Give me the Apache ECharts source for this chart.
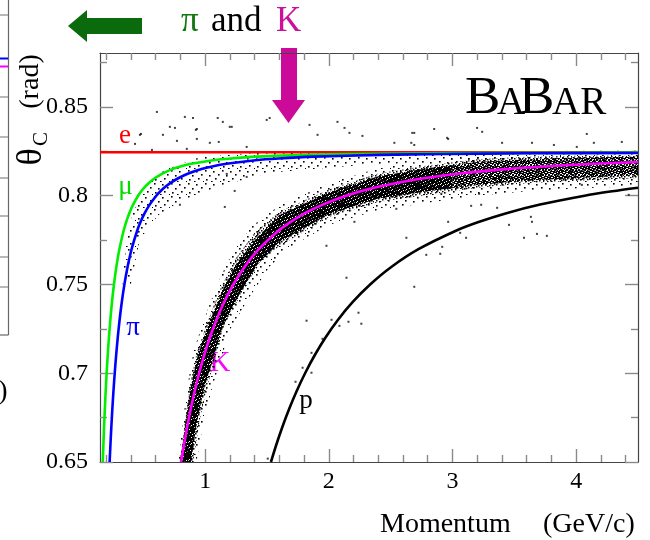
<!DOCTYPE html>
<html>
<head>
<meta charset="utf-8">
<script src="https://cdn.jsdelivr.net/npm/echarts@6/dist/echarts.min.js"></script>
<style>
  html, body { margin: 0; padding: 0; background: #fff; }
  #chart { width: 650px; height: 540px; }
</style>
</head>
<body>
<div id="chart"></div>
<script>
// Axis ticks (momentum in GeV/c, Cherenkov angle in rad)
const momentumTicks = [1, 2, 3, 4];
const momentumMinorTicks = [0.2, 0.4, 0.6, 0.8, 1.2, 1.4, 1.6, 1.8, 2.2, 2.4, 2.6, 2.8, 3.2, 3.4, 3.6, 3.8, 4.2, 4.4];
const angleTicks = [0.65, 0.7, 0.75, 0.8, 0.85];
const angleMinorTicks = [0.675, 0.725, 0.775, 0.825, 0.875];

// Expected Cherenkov angle for each particle hypothesis: [momentum, theta_C]
const electronCurve = [[0.15, 0.8245], [4.5, 0.8245]];
const muonCurve = [[0.1725, 0.65], [0.1776, 0.66], [0.1831, 0.67], [0.1892, 0.68], [0.1960, 0.69], [0.2036, 0.70],
  [0.2122, 0.71], [0.2221, 0.72], [0.2335, 0.73], [0.2468, 0.74], [0.2628, 0.75], [0.2824, 0.76], [0.3072, 0.77],
  [0.3400, 0.78], [0.3609, 0.785], [0.3861, 0.79], [0.4176, 0.795], [0.4581, 0.80], [0.4834, 0.8025], [0.5135, 0.805],
  [0.5499, 0.8075], [0.5953, 0.81], [0.6542, 0.8125], [0.7349, 0.815], [0.8005, 0.8165], [0.8874, 0.818],
  [1.0648, 0.82], [1.2057, 0.821], [1.4225, 0.822], [1.8244, 0.823], [2.2172, 0.8235], [3.0, 0.8240], [4.5, 0.8243]];
const pionCurve = [[0.2279, 0.65], [0.2345, 0.66], [0.2419, 0.67], [0.2499, 0.68], [0.2589, 0.69], [0.2690, 0.70],
  [0.2804, 0.71], [0.2934, 0.72], [0.3084, 0.73], [0.3261, 0.74], [0.3472, 0.75], [0.3731, 0.76], [0.4058, 0.77],
  [0.4491, 0.78], [0.4767, 0.785], [0.5101, 0.79], [0.5516, 0.795], [0.6052, 0.80], [0.6386, 0.8025], [0.6783, 0.805],
  [0.7263, 0.8075], [0.7863, 0.81], [0.8641, 0.8125], [0.9707, 0.815], [1.0574, 0.8165], [1.1722, 0.818],
  [1.4066, 0.82], [1.5927, 0.821], [1.8790, 0.822], [2.4100, 0.823], [2.9288, 0.8235], [3.6, 0.8239], [4.5, 0.8241]];
const kaonCurve = [[0.8061, 0.65], [0.8296, 0.66], [0.8555, 0.67], [0.8840, 0.68], [0.9158, 0.69], [0.9514, 0.70],
  [0.9917, 0.71], [1.0376, 0.72], [1.0908, 0.73], [1.1533, 0.74], [1.2280, 0.75], [1.3197, 0.76], [1.4355, 0.77],
  [1.5886, 0.78], [1.6861, 0.785], [1.8041, 0.79], [1.9509, 0.795], [2.1406, 0.80], [2.2588, 0.8025], [2.3991, 0.805],
  [2.5691, 0.8075], [2.7814, 0.81], [3.0565, 0.8125], [3.4335, 0.815], [3.7401, 0.8165], [4.1462, 0.818], [4.5, 0.819]];
const protonCurve = [[1.5321, 0.65], [1.5768, 0.66], [1.6259, 0.67], [1.6801, 0.68], [1.7405, 0.69], [1.8082, 0.70],
  [1.8847, 0.71], [1.9721, 0.72], [2.0732, 0.73], [2.1919, 0.74], [2.3340, 0.75], [2.5081, 0.76], [2.7283, 0.77],
  [3.0192, 0.78], [3.2045, 0.785], [3.4288, 0.79], [3.7079, 0.795], [4.0683, 0.80], [4.2929, 0.8025], [4.5, 0.8045]];

// Kaon track band: faint halo, outer envelope (upper edge, lower edge)
const kaonHaloUpper = [[0.785, 0.650], [0.82, 0.673], [0.86, 0.694], [0.91, 0.7135], [1.00, 0.732], [1.10, 0.7505],
  [1.22, 0.768], [1.38, 0.783], [1.60, 0.7945], [2.00, 0.807], [2.40, 0.8155], [2.80, 0.8195], [3.20, 0.822], [4.50, 0.823]];
const kaonHaloLower = [[0.93, 0.650], [0.985, 0.672], [1.05, 0.690], [1.13, 0.708], [1.20, 0.7245], [1.35, 0.742],
  [1.52, 0.760], [1.70, 0.7715], [2.00, 0.7835], [2.40, 0.792], [2.80, 0.796], [3.20, 0.800], [3.60, 0.8025],
  [4.00, 0.804], [4.50, 0.8055]];
const kaonBandUpper = [[0.798, 0.650], [0.835, 0.672], [0.875, 0.692], [0.93, 0.711], [1.02, 0.729], [1.12, 0.747],
  [1.24, 0.764], [1.40, 0.779], [1.60, 0.791], [2.00, 0.8035], [2.40, 0.8125], [2.80, 0.817], [3.20, 0.8205],
  [3.60, 0.822], [4.00, 0.8225], [4.50, 0.8225]];
const kaonBandLower = [[0.903, 0.650], [0.957, 0.674], [1.014, 0.692], [1.094, 0.7115], [1.16, 0.7285], [1.30, 0.7455],
  [1.46, 0.764], [1.60, 0.7715], [2.00, 0.788], [2.40, 0.7965], [2.80, 0.8005], [3.20, 0.8045], [3.60, 0.807],
  [4.00, 0.8085], [4.50, 0.810]];
// Dense core of the kaon band, below 3 GeV/c and above it
const kaonCoreUpperLow = [[0.800, 0.650], [0.838, 0.671], [0.880, 0.691], [0.94, 0.710], [1.03, 0.728], [1.13, 0.745],
  [1.25, 0.7615], [1.42, 0.7765], [1.60, 0.789], [2.00, 0.802], [2.40, 0.8110], [2.80, 0.8155], [3.00, 0.8173]];
const kaonCoreLowerLow = [[0.885, 0.650], [0.935, 0.673], [0.99, 0.691], [1.07, 0.7095], [1.14, 0.726], [1.27, 0.7435],
  [1.42, 0.761], [1.60, 0.774], [2.00, 0.7895], [2.40, 0.7985], [2.80, 0.8025], [3.00, 0.8043]];
const kaonCoreUpperHigh = [[3.00, 0.8173], [3.20, 0.819], [3.60, 0.8205], [4.00, 0.8215], [4.50, 0.822]];
const kaonCoreLowerHigh = [[3.00, 0.8043], [3.20, 0.806], [3.60, 0.8085], [4.00, 0.810], [4.50, 0.8115]];

// Pion track region (sparser)
const pionBandUpper = [[0.33, 0.750], [0.36, 0.772], [0.41, 0.789], [0.50, 0.8035], [0.67, 0.8145], [0.95, 0.8215],
  [1.45, 0.8245], [4.50, 0.8255]];
const pionBandLower = [[0.40, 0.750], [0.47, 0.775], [0.62, 0.789], [0.80, 0.797], [1.12, 0.8055], [1.52, 0.813],
  [2.17, 0.8168], [2.97, 0.8196], [4.50, 0.8196]];

// Isolated hits away from the bands
const strayHits = [
  [0.610, 0.8472], [0.836, 0.8444], [0.902, 0.8438], [0.715, 0.8388], [0.756, 0.8382], [0.933, 0.8376],
  [1.102, 0.8438], [1.199, 0.8388], [1.498, 0.8427], [1.522, 0.8438], [1.844, 0.8399], [0.473, 0.8343],
  [0.659, 0.8343], [2.070, 0.8416], [2.127, 0.8382], [2.167, 0.8354], [2.272, 0.8337], [2.691, 0.8354],
  [2.852, 0.8376], [2.957, 0.8326], [3.199, 0.8382], [3.240, 0.8360], [4.086, 0.8348], [2.667, 0.8298],
  [2.965, 0.8320], [3.401, 0.8298], [3.643, 0.8298], [3.820, 0.8286], [4.005, 0.8275], [4.143, 0.8298],
  [4.369, 0.8303], [1.143, 0.8416], [1.215, 0.8388], [0.925, 0.8371], [1.909, 0.8343], [2.530, 0.8298],
  [2.675, 0.8354], [2.691, 0.8286], [0.481, 0.8348], [0.772, 0.8309], [0.933, 0.8320], [1.038, 0.8298],
  [1.110, 0.8303], [1.336, 0.8275], [0.433, 0.8292], [0.852, 0.8264], [0.570, 0.8258],
  [0.796, 0.7949], [1.159, 0.7937], [1.239, 0.8027], [1.336, 0.8106], [1.175, 0.8123], [1.981, 0.7718],
  [2.143, 0.7538], [2.691, 0.7487], [2.627, 0.7763], [2.546, 0.7926], [2.207, 0.7853], [3.151, 0.7943],
  [3.232, 0.7949], [3.361, 0.7932], [3.457, 0.7836], [3.634, 0.7881], [3.643, 0.7853], [3.683, 0.7785],
  [3.763, 0.7774], [3.578, 0.7763], [3.110, 0.7763], [2.965, 0.7853], [3.062, 0.7791], [2.917, 0.7712],
  [2.788, 0.7667], [2.901, 0.7673], [4.046, 0.8061], [4.425, 0.8005], [3.215, 0.8011], [2.909, 0.8011],
  [1.820, 0.7296], [2.022, 0.7301], [2.086, 0.7267], [2.159, 0.7290], [2.240, 0.7341], [2.263, 0.7279],
  [1.949, 0.7194], [1.860, 0.7115], [1.788, 0.7031], [1.860, 0.7003], [1.731, 0.6952], [1.506, 0.6519]
];

// Stippled fill tiles that give the bands their dotted texture
function stippleTile(w, h, dots, size) {
  const c = document.createElement('canvas');
  c.width = w; c.height = h;
  const g = c.getContext('2d');
  g.fillStyle = '#000';
  dots.forEach(([x, y]) => g.fillRect(x, y, size, size));
  return { image: c, repeat: 'repeat' };
}
function holedTile(w, h, holes) {
  const c = document.createElement('canvas');
  c.width = w; c.height = h;
  const g = c.getContext('2d');
  g.fillStyle = '#000';
  g.fillRect(0, 0, w, h);
  holes.forEach(([x, y]) => g.clearRect(x, y, 1, 1));
  return { image: c, repeat: 'repeat' };
}
const sparseFill = stippleTile(17, 13, [[1, 1], [9, 2], [14, 5], [5, 6], [11, 9], [2, 10], [16, 12], [7, 12]], 1.6);
const mediumFill = stippleTile(11, 9, [[0, 0], [4, 0], [8, 1], [2, 2], [6, 3], [10, 3], [1, 4], [5, 5], [8, 5],
  [3, 6], [10, 7], [0, 7], [6, 7], [4, 8], [9, 8]], 1.5);
const midDenseFill = holedTile(6, 5, [[1, 0], [4, 0], [2, 1], [5, 2], [0, 2], [3, 3], [1, 4], [4, 4], [2, 3], [5, 4], [0, 0], [3, 1]]);
const denseFill = holedTile(7, 6, [[1, 0], [5, 1], [3, 2], [0, 3], [6, 4], [2, 5], [4, 4]]);

function bandSeries(upper, lower, fill) {
  const outline = upper.concat(lower.slice().reverse());
  return {
    type: 'custom',
    coordinateSystem: 'cartesian2d',
    silent: true,
    clip: true,
    data: [[1, 0.7]],
    renderItem: (params, api) => ({
      type: 'polygon',
      shape: { points: outline.map(d => api.coord(d)) },
      style: { fill: fill }
    })
  };
}

function curveSeries(name, data, color) {
  return {
    name: name,
    type: 'line',
    data: data,
    showSymbol: false,
    smooth: 0.3,
    clip: true,
    silent: true,
    lineStyle: { color: color, width: 2.6 }
  };
}

const serif = '"Liberation Serif", "Times New Roman", serif';
const axisLineStyle = { color: '#444', width: 1.2 };
const tickStyle = { color: '#8a8a8a', width: 1.4 };

function xAxisDef(position, ticks, len, withLabels, withLine) {
  return {
    type: 'value', position: position, min: 0.15, max: 4.5,
    axisLine: { show: withLine, onZero: false, lineStyle: axisLineStyle },
    axisTick: { show: true, inside: true, length: len, customValues: ticks, lineStyle: tickStyle },
    axisLabel: withLabels
      ? { show: true, customValues: ticks, fontFamily: serif, fontSize: 24, color: '#000', margin: 8 }
      : { show: false },
    splitLine: { show: false }
  };
}
function yAxisDef(position, ticks, len, withLabels, withLine) {
  return {
    type: 'value', position: position, min: 0.65, max: 0.8804,
    axisLine: { show: withLine, onZero: false, lineStyle: axisLineStyle },
    axisTick: { show: true, inside: true, length: len, customValues: ticks, lineStyle: tickStyle },
    axisLabel: withLabels
      ? { show: true, customValues: ticks, fontFamily: serif, fontSize: 24, color: '#000', margin: 12 }
      : { show: false },
    splitLine: { show: false }
  };
}

function label(text, x, y, size, color, align, rotation) {
  return {
    type: 'text', x: x, y: y, rotation: rotation || 0, silent: true,
    style: {
      text: text, fill: color, font: size + 'px ' + serif,
      textAlign: align || 'center', textVerticalAlign: 'middle'
    }
  };
}

const graphics = [
  // neighbouring panel edge on the far left
  { type: 'line', shape: { x1: 8.5, y1: 0, x2: 8.5, y2: 335 }, style: { stroke: '#666', lineWidth: 1.2 } },
  { type: 'line', shape: { x1: 0, y1: 335, x2: 8.5, y2: 335 }, style: { stroke: '#666', lineWidth: 1.2 } },
  ...[15, 97, 137, 178, 216, 257, 287].map(y => ({
    type: 'line', shape: { x1: 0, y1: y, x2: 8, y2: y }, style: { stroke: '#888', lineWidth: 1.2 }
  })),
  { type: 'line', shape: { x1: 0, y1: 58.5, x2: 8, y2: 58.5 }, style: { stroke: '#0000ff', lineWidth: 2 } },
  { type: 'line', shape: { x1: 0, y1: 66.5, x2: 8, y2: 66.5 }, style: { stroke: '#ff00ff', lineWidth: 2 } },
  label(')', 3, 392, 28, '#000', 'center'),

  // arrows and annotation above the frame
  { type: 'polygon', shape: { points: [[68, 26], [87, 10], [87, 18], [142, 18], [142, 34], [87, 34], [87, 42]] },
    style: { fill: '#0b6a0b' } },
  { type: 'polygon', shape: { points: [[281, 48], [297, 48], [297, 100], [305, 100], [288.5, 123], [272, 100], [281, 100]] },
    style: { fill: '#cc0a99' } },
  label('π', 181, 22, 35, '#117711', 'left'),
  label('and', 211, 22, 35, '#000', 'left'),
  label('K', 276, 22, 35, '#cc1199', 'left'),

  // experiment logo
  label('B', 465, 99, 53, '#000', 'left'),
  label('A', 497, 104, 39, '#000', 'left'),
  label('B', 519, 99, 53, '#000', 'left'),
  label('AR', 552, 104, 39, '#000', 'left'),

  // hypothesis labels
  label('e', 125, 136, 27, '#ff0000'),
  label('μ', 125.5, 187, 27, '#00dd00'),
  label('π', 133, 328, 27, '#0000ff'),
  label('K', 220, 363, 29, '#ff00ff'),
  label('p', 306, 401, 27, '#000'),

  // axis titles
  label('Momentum', 380, 525, 28, '#000', 'left'),
  label('(GeV/c)', 543, 525, 28, '#000', 'left'),
  label('θ', 32, 157, 36, '#000', 'center', Math.PI / 2),
  label('C', 41, 139, 21, '#000', 'center', Math.PI / 2),
  label('(rad)', 30.5, 81.5, 28, '#000', 'center', Math.PI / 2)
];

const chart = echarts.init(document.getElementById('chart'), null, { renderer: 'canvas' });
chart.setOption({
  animation: false,
  backgroundColor: '#fff',
  grid: { left: 100, right: 12, top: 53, bottom: 78, containLabel: false },
  xAxis: [
    xAxisDef('bottom', momentumTicks, 13, true, true),
    xAxisDef('bottom', momentumMinorTicks, 7, false, false),
    xAxisDef('top', momentumTicks, 13, false, true),
    xAxisDef('top', momentumMinorTicks, 7, false, false)
  ],
  yAxis: [
    yAxisDef('left', angleTicks, 13, true, true),
    yAxisDef('left', angleMinorTicks, 7, false, false),
    yAxisDef('right', angleTicks, 13, false, true),
    yAxisDef('right', angleMinorTicks, 7, false, false)
  ],
  series: [
    bandSeries(pionBandUpper, pionBandLower, sparseFill),
    bandSeries(kaonHaloUpper, kaonHaloLower, sparseFill),
    bandSeries(kaonBandUpper, kaonBandLower, mediumFill),
    bandSeries(kaonCoreUpperLow, kaonCoreLowerLow, denseFill),
    bandSeries(kaonCoreUpperHigh, kaonCoreLowerHigh, midDenseFill),
    {
      type: 'scatter', data: strayHits, symbol: 'rect', symbolSize: 2, silent: true,
      itemStyle: { color: '#111' }
    },
    curveSeries('e', electronCurve, '#ff0000'),
    curveSeries('mu', muonCurve, '#00ee00'),
    curveSeries('pi', pionCurve, '#0000ff'),
    curveSeries('K', kaonCurve, '#ff00ff'),
    curveSeries('p', protonCurve, '#000000')
  ],
  graphic: graphics
});
</script>
</body>
</html>
